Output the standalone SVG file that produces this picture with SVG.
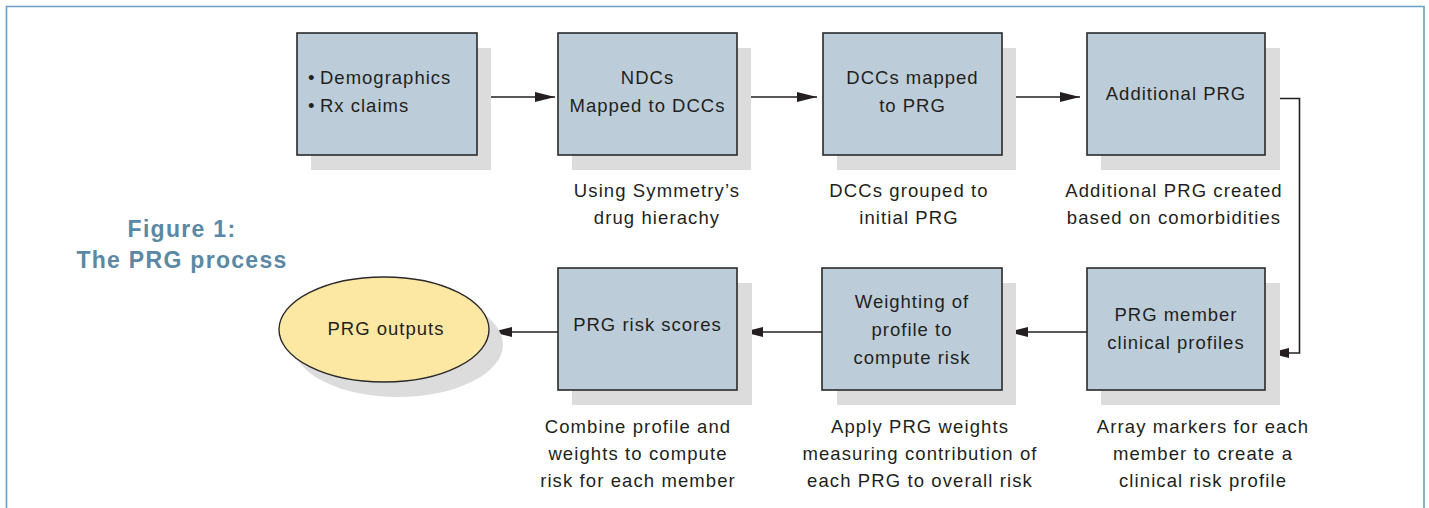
<svg xmlns="http://www.w3.org/2000/svg" width="1429" height="508" viewBox="0 0 1429 508">
<defs>
<style>
.frame{fill:none;stroke:#6c9fbf;stroke-width:1.6}
.box{fill:#bccdd9;stroke:#2a2a2a;stroke-width:1.6}
.shadow{fill:#dcdcdc}
.ell{fill:#fce7a3;stroke:#2a2a2a;stroke-width:1.4}
.t{font-family:"Liberation Sans",Arial,sans-serif;font-size:18.5px;fill:#231f20;letter-spacing:1px}
.c{text-anchor:middle}
.cap{font-family:"Liberation Sans",Arial,sans-serif;font-size:18.5px;fill:#231f20;letter-spacing:1.1px;text-anchor:middle}
.title{font-family:"Liberation Sans",Arial,sans-serif;font-size:23px;font-weight:bold;fill:#5b88a4;letter-spacing:1.3px;text-anchor:middle}
.conn{fill:none;stroke:#231f20;stroke-width:1.6}
</style>
<marker id="ah" markerUnits="userSpaceOnUse" markerWidth="21" markerHeight="11" refX="20" refY="5" orient="auto">
<path d="M0,0 L20,5 L0,10 Z" fill="#231f20"/>
</marker>
</defs>
<rect width="1429" height="508" fill="#ffffff"/>
<path class="frame" d="M6.5,520 V6.5 H1424 V520"/>

<g id="title">
<text class="title" x="182" y="237">Figure 1:</text>
<text class="title" x="182" y="268">The PRG process</text>
</g>

<g id="connectors">
<path class="conn" d="M477,97 H555" marker-end="url(#ah)"/>
<path class="conn" d="M737,97 H817" marker-end="url(#ah)"/>
<path class="conn" d="M1002,97 H1080" marker-end="url(#ah)"/>
<path class="conn" d="M1265,98.5 H1299.5 V353 H1269" marker-end="url(#ah)"/>
<path class="conn" d="M1087,332 H1008" marker-end="url(#ah)"/>
<path class="conn" d="M822,332 H743" marker-end="url(#ah)"/>
<path class="conn" d="M558,332 H492" marker-end="url(#ah)"/>
</g>

<g id="node-inputs">
<rect class="shadow" x="311" y="48" width="180" height="122"/>
<rect class="box" x="297" y="33" width="180" height="122"/>
<text class="t" x="308" y="84">•</text>
<text class="t" x="320" y="84">Demographics</text>
<text class="t" x="308" y="112">•</text>
<text class="t" x="320" y="112">Rx claims</text>
</g>

<g id="node-ndcs">
<rect class="shadow" x="572" y="48" width="179" height="122"/>
<rect class="box" x="558" y="33" width="179" height="122"/>
<text class="t c" x="647.5" y="84">NDCs</text>
<text class="t c" x="647.5" y="112">Mapped to DCCs</text>
<text class="cap" x="657" y="197">Using Symmetry’s</text>
<text class="cap" x="657" y="224">drug hierachy</text>
</g>

<g id="node-dccs">
<rect class="shadow" x="837" y="48" width="179" height="122"/>
<rect class="box" x="823" y="33" width="179" height="122"/>
<text class="t c" x="912.5" y="84">DCCs mapped</text>
<text class="t c" x="912.5" y="112">to PRG</text>
<text class="cap" x="909" y="197">DCCs grouped to</text>
<text class="cap" x="909" y="224">initial PRG</text>
</g>

<g id="node-additional">
<rect class="shadow" x="1101" y="48" width="179" height="122"/>
<rect class="box" x="1087" y="33" width="178" height="122"/>
<text class="t c" x="1176" y="100">Additional PRG</text>
<text class="cap" x="1174" y="197">Additional PRG created</text>
<text class="cap" x="1174" y="224">based on comorbidities</text>
</g>

<g id="node-member">
<rect class="shadow" x="1101" y="283" width="179" height="122"/>
<rect class="box" x="1087" y="268" width="178" height="122"/>
<text class="t c" x="1176" y="321">PRG member</text>
<text class="t c" x="1176" y="349">clinical profiles</text>
<text class="cap" x="1203" y="433">Array markers for each</text>
<text class="cap" x="1203" y="460">member to create a</text>
<text class="cap" x="1203" y="487">clinical risk profile</text>
</g>

<g id="node-weighting">
<rect class="shadow" x="837" y="283" width="179" height="122"/>
<rect class="box" x="822" y="268" width="180" height="122"/>
<text class="t c" x="912" y="308">Weighting of</text>
<text class="t c" x="912" y="336">profile to</text>
<text class="t c" x="912" y="364">compute risk</text>
<text class="cap" x="920" y="433">Apply PRG weights</text>
<text class="cap" x="920" y="460">measuring contribution of</text>
<text class="cap" x="920" y="487">each PRG to overall risk</text>
</g>

<g id="node-riskscores">
<rect class="shadow" x="572" y="283" width="180" height="122"/>
<rect class="box" x="558" y="268" width="179" height="122"/>
<text class="t c" x="647.5" y="331">PRG risk scores</text>
<text class="cap" x="638" y="433">Combine profile and</text>
<text class="cap" x="638" y="460">weights to compute</text>
<text class="cap" x="638" y="487">risk for each member</text>
</g>

<g id="node-outputs">
<ellipse class="shadow" cx="398" cy="344.5" rx="105" ry="52.5"/>
<ellipse class="ell" cx="384" cy="329.5" rx="105" ry="52.5"/>
<text class="t c" x="386" y="335">PRG outputs</text>
</g>
</svg>
